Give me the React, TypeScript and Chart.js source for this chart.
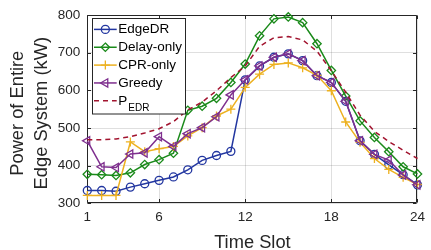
import React, { useEffect, useRef } from 'react';
import { Chart, registerables } from 'chart.js';

Chart.register(...registerables);

const timeSlots = [1, 2, 3, 4, 5, 6, 7, 8, 9, 10, 11, 12, 13, 14, 15, 16, 17, 18, 19, 20, 21, 22, 23, 24];
const edgeDR = [334, 334, 332, 343, 352, 361, 370, 389, 414, 427, 438, 628, 665, 688, 697, 679, 639, 621, 571, 466, 430, 402, 376, 349];
const delayOnly = [377, 376, 374, 381, 403, 416, 433, 547, 558, 579, 621, 670, 745, 790, 795, 780, 724, 653, 585, 519, 475, 437, 397, 378];
const cprOnly = [321, 321, 321, 463, 437, 445, 451, 479, 501, 532, 550, 608, 643, 669, 673, 660, 640, 599, 516, 462, 419, 390, 369, 350];
const greedy = [466, 397, 395, 431, 434, 477, 451, 485, 501, 530, 588, 628, 665, 688, 697, 679, 639, 621, 571, 466, 430, 415, 375, 349];
const pEDR = [469, 469, 471, 477, 487, 498, 517, 548, 569, 599, 634, 665, 717, 740, 743, 734, 704, 652, 595, 534, 491, 464, 441, 419];

const xTickValues = [1, 6, 12, 18, 24];
const yTickValues = [300, 400, 500, 600, 700, 800];

const seriesLabels = ['EdgeDR', 'Delay-only', 'CPR-only', 'Greedy', 'P'];
const seriesSubs = ['', '', '', '', 'EDR'];
const yTitleLines = ['Power of Entire', 'Edge System (kW)'];
const xTitle = 'Time Slot';

const FONT = "'Liberation Sans', Arial, Helvetica, sans-serif";
const AX = '#262626';
const GRID = 'rgba(38,38,38,0.15)';

type Marker = 'circle' | 'diamond' | 'plus' | 'triLeft' | 'none';

const styles: { color: string; marker: Marker; radius: number; dash: number[] }[] = [
  { color: '#2236A0', marker: 'circle', radius: 4, dash: [] },
  { color: '#1A8A1A', marker: 'diamond', radius: 4.2, dash: [] },
  { color: '#EDB120', marker: 'plus', radius: 4.5, dash: [] },
  { color: '#7E2F8E', marker: 'triLeft', radius: 4.8, dash: [] },
  { color: '#A2142F', marker: 'none', radius: 0, dash: [5, 4] },
];

const seriesData = [edgeDR, delayOnly, cprOnly, greedy, pEDR];

const pointStyleOf = (m: Marker) =>
  m === 'circle' ? 'circle' : m === 'diamond' ? 'rectRot' : m === 'plus' ? 'cross' : m === 'triLeft' ? 'triangle' : 'circle';

function drawMarker(ctx: CanvasRenderingContext2D, m: Marker, x: number, y: number, r: number) {
  ctx.beginPath();
  if (m === 'circle') {
    ctx.arc(x, y, r, 0, Math.PI * 2);
  } else if (m === 'diamond') {
    ctx.moveTo(x, y - r);
    ctx.lineTo(x + r, y);
    ctx.lineTo(x, y + r);
    ctx.lineTo(x - r, y);
    ctx.closePath();
  } else if (m === 'plus') {
    ctx.moveTo(x - r, y);
    ctx.lineTo(x + r, y);
    ctx.moveTo(x, y - r);
    ctx.lineTo(x, y + r);
  } else if (m === 'triLeft') {
    ctx.moveTo(x - r, y);
    ctx.lineTo(x + r / 2, y - (r * Math.sqrt(3)) / 2);
    ctx.lineTo(x + r / 2, y + (r * Math.sqrt(3)) / 2);
    ctx.closePath();
  } else {
    return;
  }
  ctx.stroke();
}

const framePlugin = {
  id: 'frame',
  beforeDatasetsDraw(chart: any) {
    const { ctx, chartArea: a } = chart;
    const xs = chart.scales.x;
    const ys = chart.scales.y;
    ctx.save();
    ctx.strokeStyle = AX;
    ctx.lineWidth = 1;
    const L = Math.round(a.left) + 0.5;
    const R = Math.round(a.right) - 0.5;
    const T = Math.round(a.top) + 0.5;
    const B = Math.round(a.bottom) - 0.5;
    ctx.beginPath();
    ctx.rect(L, T, R - L, B - T);
    const tl = 3.5;
    for (const v of xTickValues) {
      const px = Math.round(xs.getPixelForValue(v)) + 0.5;
      ctx.moveTo(px, B);
      ctx.lineTo(px, B - tl);
      ctx.moveTo(px, T);
      ctx.lineTo(px, T + tl);
    }
    for (const v of yTickValues) {
      const py = Math.round(ys.getPixelForValue(v)) + 0.5;
      ctx.moveTo(L, py);
      ctx.lineTo(L + tl, py);
      ctx.moveTo(R, py);
      ctx.lineTo(R - tl, py);
    }
    ctx.stroke();

    // y-axis title (two lines, rotated)
    ctx.fillStyle = AX;
    ctx.font = `18.3px ${FONT}`;
    ctx.textAlign = 'center';
    ctx.textBaseline = 'middle';
    const cy = (a.top + a.bottom) / 2 + 4;
    const xsPos = [18.3, 41.7];
    yTitleLines.forEach((line, i) => {
      ctx.save();
      ctx.translate(xsPos[i], cy);
      ctx.rotate(-Math.PI / 2);
      ctx.fillText(line, 0, 0);
      ctx.restore();
    });
    ctx.restore();
  },
  afterDatasetsDraw(chart: any) {
    const { ctx, chartArea: a } = chart;
    ctx.save();
    const bx = Math.round(a.left + 4.5) + 0.5;
    const by = Math.round(a.top + 3.3) + 0.5;
    const bw = 93;
    const bh = 95.5;
    ctx.fillStyle = '#ffffff';
    ctx.fillRect(bx, by, bw, bh);
    ctx.strokeStyle = AX;
    ctx.lineWidth = 1;
    ctx.strokeRect(bx, by, bw, bh);
    const rowY0 = a.top + 14.3;
    const rowStep = 17.85;
    const lx0 = a.left + 6.7;
    const lx1 = a.left + 29.4;
    const tx = a.left + 31;
    for (let i = 0; i < seriesLabels.length; i++) {
      const st = styles[i];
      const y = rowY0 + i * rowStep;
      ctx.strokeStyle = st.color;
      ctx.lineWidth = 1.5;
      ctx.setLineDash(st.dash);
      ctx.beginPath();
      ctx.moveTo(lx0, y);
      ctx.lineTo(lx1, y);
      ctx.stroke();
      ctx.setLineDash([]);
      ctx.lineWidth = 1.3;
      drawMarker(ctx, st.marker, (lx0 + lx1) / 2, y, st.radius);
      ctx.fillStyle = '#000000';
      ctx.textBaseline = 'middle';
      ctx.textAlign = 'left';
      ctx.font = `13.5px ${FONT}`;
      ctx.fillText(seriesLabels[i], tx, y);
      if (seriesSubs[i]) {
        const w = ctx.measureText(seriesLabels[i]).width;
        ctx.font = `10px ${FONT}`;
        ctx.fillText(seriesSubs[i], tx + w + 1, y + 7);
      }
    }
    ctx.restore();
  },
};

export default function App() {
  const ref = useRef<HTMLCanvasElement | null>(null);
  useEffect(() => {
    if (!ref.current) return;
    const datasets = seriesData.map((vals, i) => {
      const st = styles[i];
      return {
        label: seriesLabels[i] + seriesSubs[i],
        data: timeSlots.map((t, j) => ({ x: t, y: vals[j] })),
        borderColor: st.color,
        backgroundColor: 'rgba(0,0,0,0)',
        borderWidth: 1.5,
        borderDash: st.dash,
        pointStyle: pointStyleOf(st.marker) as any,
        pointRadius: st.radius,
        pointRotation: st.marker === 'triLeft' ? -90 : 0,
        pointBorderColor: st.color,
        pointBackgroundColor: 'rgba(0,0,0,0)',
        pointBorderWidth: 1.3,
        tension: 0,
        clip: false as any,
        order: 5 - i,
      };
    });
    const chart = new Chart(ref.current, {
      type: 'line',
      data: { datasets },
      options: {
        animation: false,
        responsive: false,
        devicePixelRatio: 1,
        layout: { padding: { left: 0, right: 8.6, top: 11.7, bottom: 0 } },
        plugins: { legend: { display: false }, tooltip: { enabled: false } },
        scales: {
          x: {
            type: 'linear',
            min: 1,
            max: 24,
            afterBuildTicks: (s: any) => {
              s.ticks = xTickValues.map((v) => ({ value: v }));
            },
            afterFit: (s: any) => {
              s.height = 46.7;
            },
            grid: { color: GRID, drawTicks: false, lineWidth: 1 },
            border: { display: false },
            ticks: {
              autoSkip: false,
              maxRotation: 0,
              padding: 6,
              color: AX,
              font: { family: FONT, size: 13.5 },
            },
            title: {
              display: true,
              text: xTitle,
              color: AX,
              font: { family: FONT, size: 18.3, lineHeight: 0.78 },
              padding: { top: 0, bottom: 0 },
            },
          },
          y: {
            type: 'linear',
            min: 300,
            max: 800,
            afterBuildTicks: (s: any) => {
              s.ticks = yTickValues.map((v) => ({ value: v }));
            },
            afterFit: (s: any) => {
              s.width = 87.3;
            },
            grid: { color: GRID, drawTicks: false, lineWidth: 1 },
            border: { display: false },
            ticks: {
              padding: 7,
              color: AX,
              font: { family: FONT, size: 13.5 },
            },
            title: { display: false },
          },
        },
      },
      plugins: [framePlugin],
    });
    return () => chart.destroy();
  }, []);
  return (
    <div style={{ position: 'fixed', left: 0, top: 0, width: 431, height: 250, background: '#fff' }}>
      <canvas ref={ref} width={431} height={250} style={{ display: 'block' }} />
    </div>
  );
}
